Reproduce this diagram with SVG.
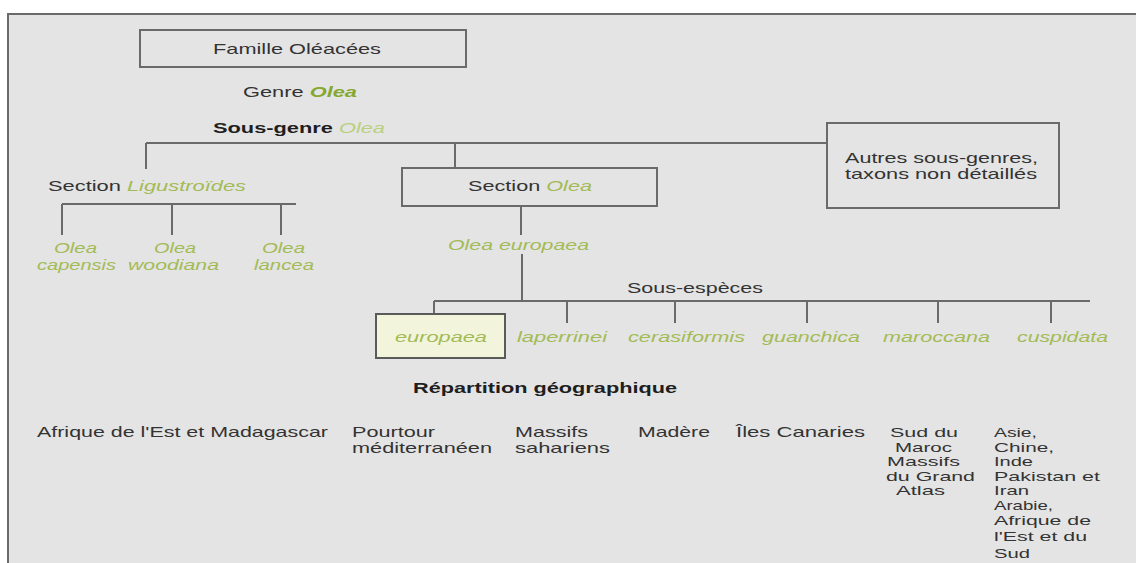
<svg xmlns="http://www.w3.org/2000/svg" width="1136" height="563" viewBox="0 0 1136 563">
<style>
text{font-family:"Liberation Sans",Arial,sans-serif;font-size:15px;fill:#333333}
.sm{font-size:13.5px}
.g{fill:#a3bb55;font-style:italic}
.gb{fill:#86a830;font-style:italic;font-weight:bold}
.gl{fill:#b9d07e;font-style:italic}
.b{font-weight:bold;fill:#1e1e1e}
.box{fill:none;stroke:#6a6a6a;stroke-width:2}
.ln{stroke:#6a6a6a;stroke-width:2;fill:none}
</style>
<rect x="0" y="0" width="1136" height="563" fill="#ffffff"/>
<rect x="8" y="14" width="1130" height="552" fill="#e4e4e4" stroke="#6a6a6a" stroke-width="2"/>

<g id="connectors">
<path class="ln" d="M146 143H827M146 143V169M455 143V168"/>
<path class="ln" d="M62 204H296M62 204V235M172 204V235M281 204V235"/>
<path class="ln" d="M521 206V235M522 254V301M434 301H1090M434 301V314"/>
<path class="ln" d="M567 301V323M675 301V323M807 301V323M938 301V323M1051 301V323"/>
</g>

<g id="famille"><rect class="box" x="140" y="30" width="326" height="37"/>
<text x="213" y="54" textLength="168" lengthAdjust="spacingAndGlyphs">Famille Oléacées</text></g>
<g id="genre"><text x="243" y="97" textLength="114" lengthAdjust="spacingAndGlyphs">Genre <tspan class="gb">Olea</tspan></text></g>
<g id="sousgenre"><text x="213" y="133" textLength="172" lengthAdjust="spacingAndGlyphs"><tspan class="b">Sous-genre</tspan> <tspan class="gl">Olea</tspan></text></g>

<g id="autres"><rect class="box" x="827" y="123" width="232" height="85"/>
<text x="845" y="163" textLength="193" lengthAdjust="spacingAndGlyphs">Autres sous-genres,</text>
<text x="845" y="179" textLength="192" lengthAdjust="spacingAndGlyphs">taxons non détaillés</text></g>

<g id="ligustroides"><text x="48" y="191" textLength="198" lengthAdjust="spacingAndGlyphs">Section <tspan class="g">Ligustroïdes</tspan></text></g>
<g id="sectionolea"><rect class="box" x="402" y="168" width="255" height="38"/>
<text x="468" y="191" textLength="124" lengthAdjust="spacingAndGlyphs">Section <tspan class="g">Olea</tspan></text></g>

<g id="capensis"><text class="g" x="54" y="253" textLength="43" lengthAdjust="spacingAndGlyphs">Olea</text>
<text class="g" x="37" y="270" textLength="79" lengthAdjust="spacingAndGlyphs">capensis</text></g>
<g id="woodiana"><text class="g" x="154" y="253" textLength="42" lengthAdjust="spacingAndGlyphs">Olea</text>
<text class="g" x="128" y="270" textLength="91" lengthAdjust="spacingAndGlyphs">woodiana</text></g>
<g id="lancea"><text class="g" x="262" y="253" textLength="43" lengthAdjust="spacingAndGlyphs">Olea</text>
<text class="g" x="254" y="270" textLength="60" lengthAdjust="spacingAndGlyphs">lancea</text></g>

<g id="oleaeuropaea"><text class="g" x="448" y="250" textLength="141" lengthAdjust="spacingAndGlyphs">Olea europaea</text></g>
<g id="sousespeces"><text x="627" y="293" textLength="136" lengthAdjust="spacingAndGlyphs">Sous-espèces</text></g>

<g id="europaea"><rect x="376" y="314" width="129" height="44" fill="#f3f4dc" stroke="#5a5a5a" stroke-width="2"/>
<text class="g" x="395" y="342" textLength="92" lengthAdjust="spacingAndGlyphs">europaea</text></g>
<g id="laperrinei"><text class="g" x="517" y="342" textLength="90" lengthAdjust="spacingAndGlyphs">laperrinei</text></g>
<g id="cerasiformis"><text class="g" x="628" y="342" textLength="117" lengthAdjust="spacingAndGlyphs">cerasiformis</text></g>
<g id="guanchica"><text class="g" x="762" y="342" textLength="98" lengthAdjust="spacingAndGlyphs">guanchica</text></g>
<g id="maroccana"><text class="g" x="883" y="342" textLength="107" lengthAdjust="spacingAndGlyphs">maroccana</text></g>
<g id="cuspidata"><text class="g" x="1017" y="342" textLength="91" lengthAdjust="spacingAndGlyphs">cuspidata</text></g>

<g id="repartition"><text class="b" x="413" y="393" textLength="264" lengthAdjust="spacingAndGlyphs">Répartition géographique</text></g>

<g id="geo-afrique"><text x="37" y="437" textLength="291" lengthAdjust="spacingAndGlyphs">Afrique de l'Est et Madagascar</text></g>
<g id="geo-pourtour"><text x="352" y="437" textLength="83" lengthAdjust="spacingAndGlyphs">Pourtour</text>
<text x="352" y="453" textLength="140" lengthAdjust="spacingAndGlyphs">méditerranéen</text></g>
<g id="geo-massifs"><text x="515" y="437" textLength="73" lengthAdjust="spacingAndGlyphs">Massifs</text>
<text x="515" y="453" textLength="95" lengthAdjust="spacingAndGlyphs">sahariens</text></g>
<g id="geo-madere"><text x="638" y="437" textLength="72" lengthAdjust="spacingAndGlyphs">Madère</text></g>
<g id="geo-canaries"><text x="736" y="437" textLength="129" lengthAdjust="spacingAndGlyphs">Îles Canaries</text></g>
<g id="geo-maroc" class="sm">
<text class="sm" x="890" y="437" textLength="68" lengthAdjust="spacingAndGlyphs">Sud du</text>
<text class="sm" x="895" y="452" textLength="57" lengthAdjust="spacingAndGlyphs">Maroc</text>
<text class="sm" x="887" y="466" textLength="73" lengthAdjust="spacingAndGlyphs">Massifs</text>
<text class="sm" x="886" y="481" textLength="89" lengthAdjust="spacingAndGlyphs">du Grand</text>
<text class="sm" x="896" y="495" textLength="49" lengthAdjust="spacingAndGlyphs">Atlas</text></g>
<g id="geo-asie">
<text class="sm" x="994" y="437" textLength="43" lengthAdjust="spacingAndGlyphs">Asie,</text>
<text class="sm" x="994" y="452" textLength="60" lengthAdjust="spacingAndGlyphs">Chine,</text>
<text class="sm" x="994" y="466" textLength="39" lengthAdjust="spacingAndGlyphs">Inde</text>
<text class="sm" x="994" y="481" textLength="106" lengthAdjust="spacingAndGlyphs">Pakistan et</text>
<text class="sm" x="994" y="495" textLength="35" lengthAdjust="spacingAndGlyphs">Iran</text>
<text class="sm" x="994" y="510" textLength="59" lengthAdjust="spacingAndGlyphs">Arabie,</text>
<text class="sm" x="994" y="525" textLength="97" lengthAdjust="spacingAndGlyphs">Afrique de</text>
<text class="sm" x="994" y="541" textLength="93" lengthAdjust="spacingAndGlyphs">l'Est et du</text>
<text class="sm" x="994" y="558" textLength="36" lengthAdjust="spacingAndGlyphs">Sud</text></g>
</svg>
